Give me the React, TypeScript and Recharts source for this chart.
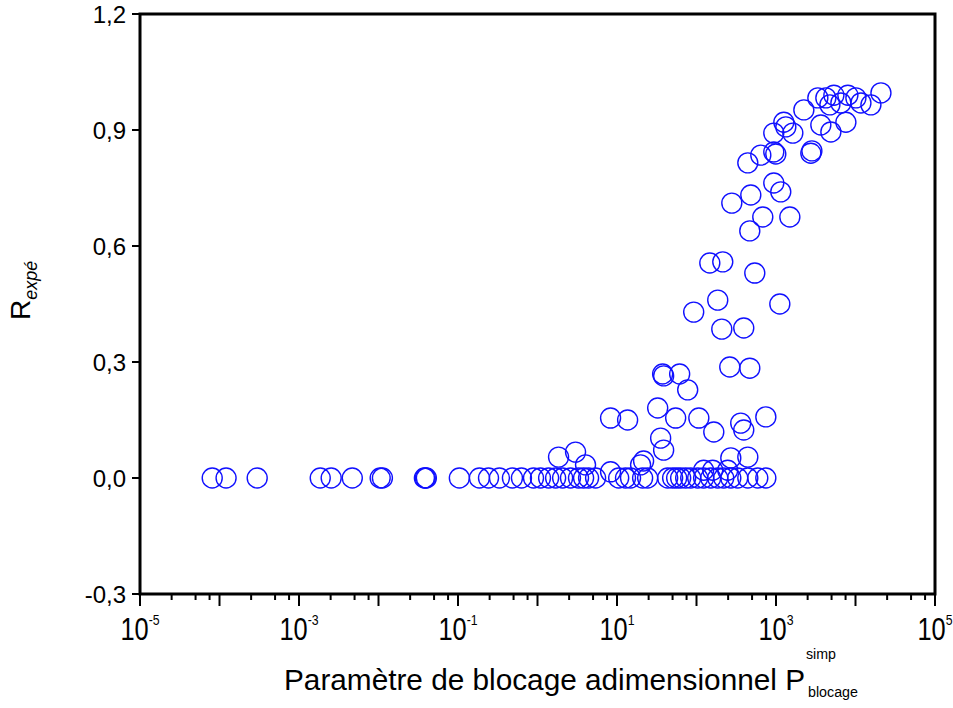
import React from 'react';
import { ScatterChart, Scatter, XAxis, YAxis, ReferenceArea } from 'recharts';

// Points lying on R = 0
const zeroRowX = [
  8.1e-5, 1.21e-4, 2.98e-4, 1.85e-3, 2.54e-3, 4.68e-3, 0.0105, 0.0112, 0.0378, 0.0388, 0.04,
  0.104, 0.186, 0.242, 0.332, 0.484, 0.628, 0.891, 1.09, 1.38, 1.69, 2.07, 2.6, 3.28, 3.8,
  4.39, 5.38, 10.5, 12.8, 14.8, 21, 24.3, 43.4, 50.1, 56.3, 63.2, 73.1, 84.6, 103.6, 123, 151,
  185, 220, 270, 330, 442, 590, 745,
];

// Points above R = 0 (x, R pairs)
const risingX = [
  1.84, 3.01, 4.02, 8.3, 19.8, 21.6, 123, 160, 247, 270, 442,
  8.3, 13.6, 32.5, 35.4, 38.6, 54.7, 107, 165, 360, 393, 745,
  77.5, 37.5, 38.6, 61.4, 262, 468, 208, 393, 92.2, 185, 1117,
  147, 214, 541, 468, 682, 1493, 278, 482, 938, 1148,
  442, 644, 938, 994, 2742, 2826, 938, 1254, 1329, 1628, 2240,
  3664, 3360, 4237, 4761, 5347, 4900, 6546, 7568, 8017, 10115, 11700, 15630, 20890,
];
const risingY = [
  0.054, 0.067, 0.034, 0.016, 0.034, 0.044, 0.02, 0.02, 0.02, 0.052, 0.054,
  0.155, 0.15, 0.181, 0.103, 0.072, 0.155, 0.155, 0.119, 0.142, 0.124, 0.158,
  0.228, 0.269, 0.264, 0.269, 0.287, 0.284, 0.385, 0.388, 0.429, 0.46, 0.45,
  0.556, 0.559, 0.53, 0.639, 0.675, 0.675, 0.711, 0.732, 0.763, 0.74,
  0.815, 0.835, 0.843, 0.838, 0.84, 0.846, 0.892, 0.92, 0.908, 0.892, 0.952,
  0.913, 0.983, 0.983, 0.965, 0.99, 0.895, 0.97, 0.92, 0.99, 0.983, 0.97, 0.965, 0.996,
];

const yTicks = [-0.3, 0, 0.3, 0.6, 0.9, 1.2];
const decadeExponents = [-5, -4, -3, -2, -1, 0, 1, 2, 3, 4, 5];
const labeledExponents = [-5, -3, -1, 1, 3, 5];
const minorMultipliers = [2.5, 5, 7.5];

const points = [
  ...zeroRowX.map((x) => ({ x, y: 0 })),
  ...risingX.map((x, i) => ({ x, y: risingY[i] })),
];

const xTicks: number[] = [];
decadeExponents.forEach((e) => {
  xTicks.push(Math.pow(10, e));
  if (e < 5) minorMultipliers.forEach((m) => xTicks.push(m * Math.pow(10, e)));
});

const FONT = '"Liberation Sans", Arial, sans-serif';

const XTick = (props: any) => {
  const { x, y, payload } = props;
  const v = payload.value;
  const lg = Math.log10(v);
  const e = Math.round(lg);
  const isDecade = Math.abs(lg - e) < 1e-6;
  const len = isDecade ? 12 : 6;
  return (
    <g>
      <line x1={x} x2={x} y1={y} y2={y + len} stroke="#000" strokeWidth={2} />
      {isDecade && labeledExponents.includes(e) && (
        <g transform={`translate(${x},${y + 46}) scale(0.82,1)`}>
          <text textAnchor="middle" fontSize={31} fontFamily={FONT} fill="#000">
            10
            <tspan dy={-15} fontSize={15}>
              {e}
            </tspan>
          </text>
        </g>
      )}
    </g>
  );
};

const XTitle = (props: any) => {
  const vb = props.viewBox || { x: 140, y: 594, width: 795 };
  const y0 = vb.y;
  return (
    <g fontFamily={FONT} fill="#000">
      <text x={284} y={y0 + 96} fontSize={29} textLength={521} lengthAdjust="spacingAndGlyphs">
        Paramètre de blocage adimensionnel P
      </text>
      <text x={806} y={y0 + 65} fontSize={14} textLength={30} lengthAdjust="spacingAndGlyphs">
        simp
      </text>
      <text x={808} y={y0 + 103} fontSize={14} textLength={50} lengthAdjust="spacingAndGlyphs">
        blocage
      </text>
    </g>
  );
};

const YTitle = () => {
  const cx = 30;
  const cy = 320;
  return (
    <g transform={`rotate(-90, ${cx}, ${cy})`} fontFamily={FONT} fill="#000">
      <text x={cx} y={cy} fontSize={28}>
        R
        <tspan dy={7} fontSize={18} fontStyle="italic">
          expé
        </tspan>
      </text>
    </g>
  );
};

export default function App() {
  return (
    <div style={{ position: 'absolute', left: 0, top: 0, width: 953, height: 708, background: '#fff' }}>
      <ScatterChart width={953} height={708} margin={{ top: 14, right: 18, bottom: 0, left: 0 }}>
        <XAxis
          dataKey="x"
          type="number"
          scale="log"
          domain={[1e-5, 1e5]}
          allowDataOverflow
          ticks={xTicks}
          interval={0}
          height={114}
          tickSize={0}
          tickMargin={0}
          tickLine={false}
          axisLine={false}
          tick={<XTick />}
          label={{ content: (p: any) => <XTitle {...p} /> }}
        />
        <YAxis
          dataKey="y"
          type="number"
          domain={[-0.3, 1.2]}
          allowDataOverflow
          ticks={yTicks}
          interval={0}
          width={140}
          tickSize={8}
          tickMargin={6}
          tickLine={{ stroke: '#000', strokeWidth: 2 }}
          axisLine={false}
          tick={{ fill: '#000', fontSize: 24, fontFamily: FONT }}
          tickFormatter={(v: number) => v.toFixed(1).replace('.', ',')}
          label={{ content: () => <YTitle /> }}
        />
        <Scatter
          data={points}
          isAnimationActive={false}
          shape={(p: any) => (
            <circle cx={p.cx} cy={p.cy} r={10} fill="none" stroke="#1010ff" strokeWidth={1.4} />
          )}
        />
        <ReferenceArea
          x1={1e-5}
          x2={1e5}
          y1={-0.3}
          y2={1.2}
          fill="none"
          fillOpacity={0}
          stroke="#000"
          strokeWidth={3}
          ifOverflow="visible"
        />
      </ScatterChart>
    </div>
  );
}
